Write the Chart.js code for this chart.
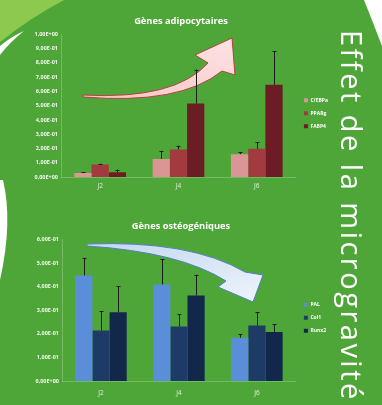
<!DOCTYPE html>
<html>
<head>
<meta charset="utf-8">
<script src="https://cdn.jsdelivr.net/npm/chart.js@4/dist/chart.umd.min.js"></script>
<style>
  html, body { margin: 0; padding: 0; }
  #stage { position: relative; width: 382px; height: 405px; overflow: hidden; background: #4ea638; font-family: "Open Sans", sans-serif; }
  #deco { position: absolute; left: 0; top: 0; }
  canvas { position: absolute; left: 0; }
  #c1 { top: 0; }
  #c2 { top: 200px; }
  #side { position: absolute; left: 367px; top: 30px; font-size: 29px; line-height: 29px; letter-spacing: 2.5px; color: #ffffff; white-space: nowrap; transform-origin: 0 0; transform: rotate(90deg); font-family: "Open Sans", sans-serif; }
</style>
</head>
<body>
<div id="stage">
  <svg id="deco" width="382" height="405" viewBox="0 0 382 405">
    <defs>
      <linearGradient id="pinkG" x1="0" y1="1" x2="1" y2="0">
        <stop offset="0" stop-color="#f6c4c4"/>
        <stop offset="1" stop-color="#fde3e3"/>
      </linearGradient>
      <linearGradient id="blueG" x1="0" y1="0" x2="1" y2="1">
        <stop offset="0" stop-color="#c3d6f0"/>
        <stop offset="1" stop-color="#eef4fc"/>
      </linearGradient>
    </defs>
    <path d="M0,0 L64,0 Q30,18 0,42 Z" fill="#8dc94e"/>
    <path d="M0,46 Q12,36 24,31 Q10,42 0,55 Z" fill="#ffffff"/>
    <path d="M0,180 L3,180 Q13,222 0,280 Z" fill="#ffffff"/>
    <path d="M364,0 L382,0 L382,46 Q372,20 364,0 Z" fill="#ffffff"/>
    <path d="M83,95 Q175,100 208,63 L195,55 L232,38 L235,75 L222,71 Q180,105 83,97 Z" fill="url(#pinkG)" stroke="#b5403f" stroke-width="1"/>
    <path d="M87,244 Q190,240 245,272 L263,275 L253,302 L218,287 L226,281 Q180,252 87,246 Z" fill="url(#blueG)" stroke="#4f81bd" stroke-width="1"/>
  </svg>
  <canvas id="c1" width="382" height="200"></canvas>
  <canvas id="c2" width="382" height="205"></canvas>
  <div id="side">Effet de la microgravité</div>
</div>
<script>
// ---------- data ----------
const categories = ['J2', 'J4', 'J6'];

const adipoTitle = 'Gènes adipocytaires';
const adipoNames = ['C/EBPa', 'PPARg', 'FABP4'];
const cebpa    = [0.028, 0.127, 0.160];
const cebpaErr = [0.007, 0.054, 0.012];
const pparg    = [0.087, 0.193, 0.198];
const ppargErr = [0.007, 0.026, 0.045];
const fabp4    = [0.033, 0.515, 0.647];
const fabp4Err = [0.019, 0.238, 0.235];
const adipoTicks = ['0,00E+00','1,00E-01','2,00E-01','3,00E-01','4,00E-01','5,00E-01','6,00E-01','7,00E-01','8,00E-01','9,00E-01','1,00E+00'];

const osteoTitle = 'Gènes ostéogéniques';
const osteoNames = ['PAL', 'Col1', 'Runx2'];
const pal      = [0.447, 0.409, 0.183];
const palErr   = [0.075, 0.106, 0.014];
const col1     = [0.214, 0.231, 0.235];
const col1Err  = [0.081, 0.053, 0.056];
const runx2    = [0.291, 0.362, 0.208];
const runx2Err = [0.110, 0.088, 0.032];
const osteoTicks = ['0,00E+00','1,00E-01','2,00E-01','3,00E-01','4,00E-01','5,00E-01','6,00E-01'];

// ---------- helpers ----------
const errorBars = {
  id: 'errorBars',
  afterDatasetsDraw(chart) {
    const ctx = chart.ctx;
    const yScale = chart.scales.y;
    ctx.save();
    ctx.strokeStyle = '#1c1c1c';
    ctx.lineWidth = 1;
    chart.data.datasets.forEach((ds, i) => {
      const meta = chart.getDatasetMeta(i);
      meta.data.forEach((bar, j) => {
        const top = yScale.getPixelForValue(ds.data[j] + ds.errors[j]);
        const x = Math.round(bar.x) + 0.5;
        ctx.beginPath();
        ctx.moveTo(x, bar.y);
        ctx.lineTo(x, top);
        ctx.moveTo(x - 2, Math.round(top) + 0.5);
        ctx.lineTo(x + 2, Math.round(top) + 0.5);
        ctx.stroke();
      });
    });
    ctx.restore();
  }
};

function makeChart(id, title, names, series, errs, colors, ticks, max, geo) {
  const datasets = names.map((n, i) => ({
    label: n,
    data: series[i],
    errors: errs[i],
    backgroundColor: colors[i],
    borderWidth: 0,
    barPercentage: 1.0,
    categoryPercentage: 0.66
  }));
  return new Chart(document.getElementById(id), {
    type: 'bar',
    data: { labels: categories, datasets },
    plugins: [errorBars],
    options: {
      responsive: false,
      devicePixelRatio: 1,
      animation: false,
      layout: { padding: { left: geo.padL, right: geo.padR, top: 0, bottom: geo.padB } },
      plugins: {
        title: {
          display: true, text: title, color: '#ffffff',
          font: { family: 'Open Sans', size: 9.3, weight: 'bold' },
          padding: { top: geo.titleTop, bottom: geo.titleBottom }
        },
        legend: {
          position: 'right', align: 'center', fullSize: false,
          title: { display: true, text: '', padding: { top: 14, bottom: 0 }, font: { size: 1 } },
          labels: {
            color: '#ffffff', boxWidth: 4, boxHeight: 4, padding: 8,
            font: { family: 'Open Sans', size: 5, weight: 'bold' }
          }
        },
        tooltip: { enabled: false }
      },
      scales: {
        x: {
          grid: { display: false, drawTicks: false },
          border: { display: true, color: 'rgba(255,255,255,0.22)' },
          ticks: { color: '#e6eee0', padding: geo.xPad, font: { family: 'Open Sans', size: 6.5 } },
          afterFit(s) { s.height = geo.xH; }
        },
        y: {
          min: 0, max: max,
          grid: { display: false, drawTicks: false },
          border: { display: true, color: 'rgba(255,255,255,0.22)' },
          ticks: {
            stepSize: 0.1, color: '#f2f7ee', padding: 3,
            font: { family: 'Open Sans', size: 5.5, weight: 'bold' },
            callback: (v, i) => ticks[i]
          },
          afterFit(s) { s.width = geo.yW; }
        }
      }
    }
  });
}

makeChart('c1', adipoTitle, adipoNames, [cebpa, pparg, fabp4], [cebpaErr, ppargErr, fabp4Err],
  ['#d99694', '#a23b3f', '#6b1d23'], adipoTicks, 1.0,
  { padL: 24, padR: 44, padB: 3, xH: 20, yW: 37, xPad: 5, titleTop: 15.5, titleBottom: 7.7 });

makeChart('c2', osteoTitle, osteoNames, [pal, col1, runx2], [palErr, col1Err, runx2Err],
  ['#5b8ed8', '#1d3b66', '#12284a'], osteoTicks, 0.6,
  { padL: 26, padR: 46, padB: 4, xH: 20, yW: 36, xPad: 8, titleTop: 20.5, titleBottom: 7.7 });
</script>
</body>
</html>
